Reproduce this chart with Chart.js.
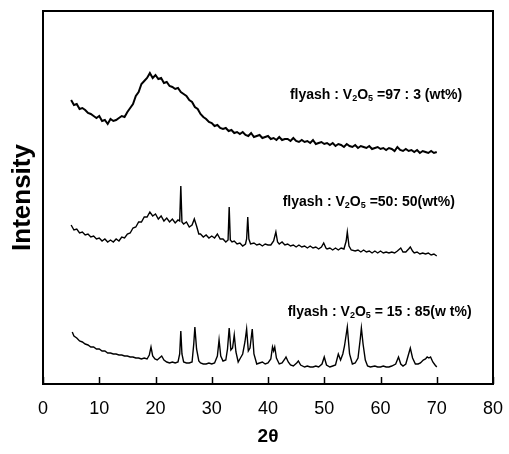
<!DOCTYPE html>
<html>
<head>
<meta charset="utf-8">
<script src="https://cdn.jsdelivr.net/npm/chart.js@4.4.1/dist/chart.umd.min.js"></script>
<style>
  html, body { margin: 0; padding: 0; background: #fff; }
</style>
</head>
<body>
<canvas id="xrdChart" width="509" height="454"></canvas>
<script>
// 2-theta ticks
var xTicks = [0, 10, 20, 30, 40, 50, 60, 70, 80];

// flyash : V2O5 = 97 : 3 (wt%), every 0.5 deg from 5 to 70
var theta97 = [];
for (var t = 5; t <= 70.001; t += 0.5) theta97.push(+t.toFixed(1));
var int97 = [
    284, 279, 280, 275, 276, 274, 271, 270, 268, 266, 268, 263, 264, 260, 265, 263, 264, 266, 268, 267,
    272, 276, 280, 288, 292, 300, 303, 306, 311, 306, 309, 305, 306, 301, 302, 298, 297, 295, 296, 292,
    290, 288, 284, 282, 277, 275, 270, 267, 265, 262, 261, 258, 259, 256, 255, 256, 253, 254, 251, 252,
    250, 252, 249, 248, 251, 247, 248, 249, 246, 247, 248, 245, 246, 244, 247, 244, 245, 245, 243, 246,
    243, 242, 244, 242, 243, 241, 244, 240, 241, 242, 240, 241, 239, 241, 238, 240, 239, 237, 240, 238,
    237, 239, 236, 238, 237, 236, 238, 235, 236, 237, 235, 236, 234, 236, 235, 233, 237, 234, 233, 235,
    233, 234, 232, 234, 231, 233, 232, 231, 233, 231, 232
];

// flyash : V2O5 = 50 : 50 (wt%)
var theta50 = [
    5.0, 5.5, 6.0, 6.5, 7.0, 7.5, 8.0, 8.5, 9.0, 9.5, 10.0, 10.5, 11.0, 11.5, 12.0, 12.5, 13.0, 13.5, 14.0, 14.5,
    15.0, 15.5, 16.0, 16.5, 17.0, 17.5, 18.0, 18.5, 19.0, 19.5, 20.0, 20.5, 21.0, 21.5, 22.0, 22.5, 23.0, 23.5, 24.0, 24.3,
    24.5, 24.7, 25.0, 25.5, 26.0, 26.5, 26.9, 27.3, 27.7, 28.0, 28.5, 29.0, 29.5, 30.0, 30.5, 31.0, 31.5, 32.0, 32.5, 32.9,
    33.1, 33.3, 33.6, 34.0, 34.5, 35.0, 35.5, 36.0, 36.2, 36.4, 36.6, 36.9, 37.5, 38.0, 38.5, 39.0, 39.5, 40.0, 40.5, 41.0,
    41.4, 41.7, 42.0, 42.5, 43.0, 43.5, 44.0, 44.5, 45.0, 45.5, 46.0, 46.5, 47.0, 47.5, 48.0, 48.5, 49.0, 49.5, 49.9, 50.3,
    50.5, 51.0, 51.5, 52.0, 52.5, 53.0, 53.5, 53.9, 54.1, 54.4, 54.8, 55.5, 56.0, 56.5, 57.0, 57.5, 58.0, 58.5, 59.0, 59.5,
    60.0, 60.5, 61.0, 61.5, 62.0, 62.5, 63.0, 63.6, 64.0, 64.5, 65.0, 65.3, 65.7, 66.0, 66.5, 67.0, 67.5, 68.0, 68.5, 69.0,
    69.5, 70.0
];
var int50 = [
    159, 154, 155, 151, 152, 149, 150, 147, 148, 145, 146, 143, 145, 142, 144, 142, 145, 143, 147, 146,
    150, 151, 156, 157, 162, 162, 167, 167, 172, 168, 170, 165, 168, 163, 166, 162, 165, 161, 164, 163,
    198, 162, 160, 162, 157, 159, 165, 158, 150, 150, 147, 149, 146, 148, 146, 150, 145, 145, 142, 144,
    177, 144, 142, 143, 140, 141, 138, 140, 145, 167, 145, 140, 141, 139, 140, 138, 140, 139, 139, 143,
    152, 142, 140, 142, 139, 140, 138, 139, 137, 139, 137, 138, 136, 138, 136, 137, 135, 137, 141, 136,
    135, 136, 134, 136, 134, 136, 135, 143, 152, 138, 134, 133, 134, 132, 134, 132, 133, 131, 133, 131,
    133, 131, 132, 131, 132, 131, 133, 136, 132, 132, 135, 137, 133, 131, 132, 130, 131, 130, 131, 129,
    130, 128
];

// flyash : V2O5 = 15 : 85 (wt%)
var theta15 = [
    5.2, 5.5, 6.0, 6.5, 7.0, 7.5, 8.0, 8.5, 9.0, 9.5, 10.0, 10.5, 11.0, 11.5, 12.0, 12.5, 13.0, 13.5, 14.0, 14.5,
    15.0, 15.5, 16.0, 16.5, 17.0, 17.5, 18.0, 18.5, 18.9, 19.2, 19.5, 19.9, 20.3, 20.7, 21.1, 21.5, 22.0, 22.5, 23.0, 23.5,
    24.0, 24.3, 24.5, 24.7, 25.0, 25.5, 26.0, 26.5, 26.8, 27.0, 27.3, 27.7, 28.0, 28.5, 29.0, 29.5, 30.0, 30.5, 31.0, 31.3,
    31.6, 32.0, 32.5, 32.8, 33.1, 33.4, 33.7, 34.0, 34.3, 34.7, 35.1, 35.5, 35.9, 36.2, 36.5, 36.8, 37.2, 37.5, 38.0, 38.5,
    39.0, 39.5, 40.0, 40.5, 40.8, 41.0, 41.2, 41.5, 42.0, 42.5, 43.0, 43.2, 43.6, 44.0, 44.5, 45.1, 45.4, 45.8, 46.5, 47.0,
    47.5, 48.0, 48.5, 49.0, 49.6, 50.0, 50.4, 51.0, 51.5, 52.0, 52.5, 52.9, 53.3, 53.6, 54.1, 54.5, 55.0, 55.5, 56.0, 56.4,
    56.6, 56.9, 57.3, 57.7, 58.2, 59.0, 59.5, 60.0, 60.5, 61.0, 61.5, 62.0, 62.7, 63.2, 63.6, 64.0, 64.5, 64.9, 65.3, 65.7,
    66.2, 66.7, 67.1, 67.6, 68.0, 68.3, 68.6, 68.9, 69.3, 69.7, 70.0
];
var int15 = [
    52, 48, 46, 43, 42, 40, 39, 37, 37, 35, 35, 33, 33, 31, 31, 30, 30, 29, 29, 28,
    28, 27, 27, 26, 26, 25, 26, 25, 29, 37, 28, 25, 24, 26, 28, 24, 22, 21, 22, 21,
    22, 30, 53, 30, 22, 21, 21, 22, 40, 57, 35, 23, 21, 20, 20, 21, 20, 21, 28, 44,
    28, 23, 24, 35, 56, 34, 36, 49, 32, 22, 26, 30, 42, 55, 33, 36, 55, 30, 20, 21,
    22, 20, 21, 25, 37, 33, 37, 26, 20, 21, 25, 27, 22, 19, 18, 21, 23, 19, 17, 18,
    17, 17, 18, 17, 20, 27, 19, 17, 18, 19, 30, 24, 30, 38, 57, 30, 20, 21, 26, 45,
    56, 40, 24, 18, 17, 18, 17, 17, 18, 17, 17, 18, 20, 27, 20, 18, 20, 28, 36, 26,
    20, 20, 21, 24, 25, 27, 26, 27, 22, 19, 17
];

// sample labels: [2theta of left edge, intensity of centre line, text parts]
var labelPos = [[43.9, 289], [42.6, 182], [43.5, 72]];
var labelText = [
    [['flyash : V', 0], ['2', 1], ['O', 0], ['5', 1], [' =97 : 3 (wt%)', 0]],
    [['flyash : V', 0], ['2', 1], ['O', 0], ['5', 1], [' =50: 50(wt%)', 0]],
    [['flyash : V', 0], ['2', 1], ['O', 0], ['5', 1], [' = 15 : 85(w t%)', 0]]
];

function pairs(xs, ys) {
    var out = [];
    for (var i = 0; i < xs.length; i++) out.push({x: xs[i], y: ys[i]});
    return out;
}

var FONT = "'Liberation Sans', Arial, Helvetica, sans-serif";

var framePlugin = {
    id: 'frame',
    afterDraw: function (chart) {
        var c = chart.ctx, a = chart.chartArea, xs = chart.scales.x;
        c.save();
        c.strokeStyle = '#000';
        // inner tick marks
        c.lineWidth = 1.5;
        for (var i = 0; i < xTicks.length; i++) {
            var px = Math.round(xs.getPixelForValue(xTicks[i])) + 0.5;
            c.beginPath();
            c.moveTo(px, a.bottom);
            c.lineTo(px, a.bottom - 7);
            c.stroke();
        }
        c.lineWidth = 2;
        c.strokeRect(a.left, a.top, a.right - a.left, a.bottom - a.top);

        // labels with subscripts
        c.fillStyle = '#000';
        c.textBaseline = 'middle';
        c.textAlign = 'left';
        var ys = chart.scales.y;
        for (var k = 0; k < labelText.length; k++) {
            var x = xs.getPixelForValue(labelPos[k][0]);
            var y = ys.getPixelForValue(labelPos[k][1]);
            var parts = labelText[k];
            for (var j = 0; j < parts.length; j++) {
                if (parts[j][1]) {
                    c.font = 'bold 9px ' + FONT;
                    c.fillText(parts[j][0], x, y + 4);
                } else {
                    c.font = 'bold 14px ' + FONT;
                    c.fillText(parts[j][0], x, y);
                }
                x += c.measureText(parts[j][0]).width;
            }
        }
        c.restore();
    }
};

function lineStyle(w) {
    return {
        borderColor: '#000',
        borderWidth: w,
        pointRadius: 0,
        fill: false,
        tension: 0,
        showLine: true
    };
}

var ctx = document.getElementById('xrdChart').getContext('2d');
var chart = new Chart(ctx, {
    type: 'scatter',
    data: {
        datasets: [
            Object.assign({label: '97:3', data: pairs(theta97, int97)}, lineStyle(2)),
            Object.assign({label: '50:50', data: pairs(theta50, int50)}, lineStyle(1.4)),
            Object.assign({label: '15:85', data: pairs(theta15, int15)}, lineStyle(1.4))
        ]
    },
    options: {
        responsive: false,
        animation: false,
        devicePixelRatio: 1,
        layout: {padding: {top: 11, right: 16, left: 0, bottom: 0}},
        plugins: {legend: {display: false}, tooltip: {enabled: false}},
        scales: {
            x: {
                type: 'linear',
                min: 0,
                max: 80,
                afterBuildTicks: function (scale) {
                    scale.ticks = xTicks.map(function (v) { return {value: v}; });
                },
                afterFit: function (scale) {
                    scale.height = 70;
                    scale.paddingLeft = 0;
                    scale.paddingRight = 0;
                },
                grid: {display: false, drawTicks: false},
                border: {display: false},
                ticks: {color: '#000', padding: 14, maxRotation: 0, font: {family: FONT, size: 18}},
                title: {display: true, text: '2θ', color: '#000', padding: {top: 0, bottom: 6},
                        font: {family: FONT, size: 19, weight: 'bold'}}
            },
            y: {
                min: 0,
                max: 373,
                afterFit: function (scale) {
                    scale.width = 43;
                    scale.paddingTop = 0;
                    scale.paddingBottom = 0;
                },
                grid: {display: false, drawTicks: false},
                border: {display: false},
                ticks: {display: false},
                title: {display: true, text: 'Intensity', color: '#000', padding: {top: 7, bottom: 0},
                        font: {family: FONT, size: 26, weight: 'bold'}}
            }
        }
    },
    plugins: [framePlugin]
});
</script>
</body>
</html>
